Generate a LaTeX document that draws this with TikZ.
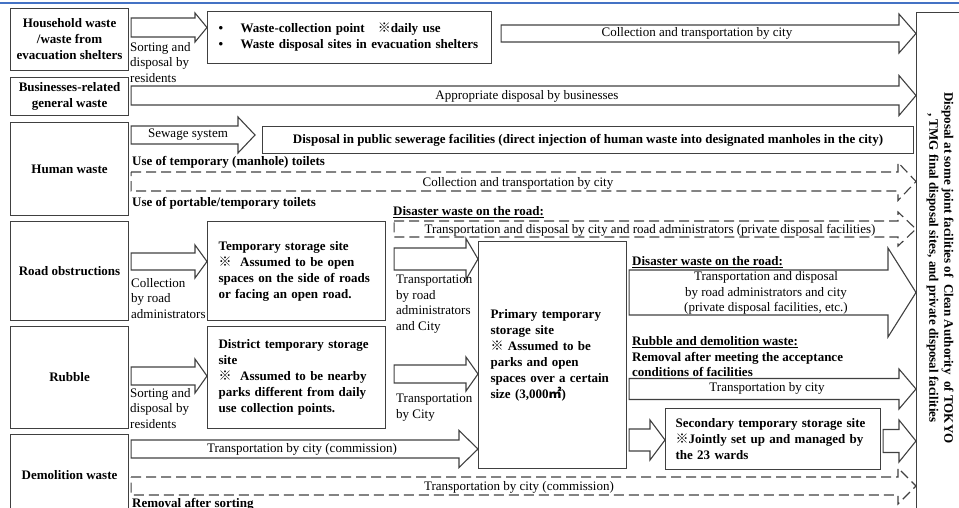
\documentclass[tikz,border=0pt]{standalone}
\usepackage{fontspec}
\setmainfont{Liberation Serif}
\newfontfamily\cjk{Noto Sans CJK JP}
\usetikzlibrary{calc}
\definecolor{topblue}{RGB}{68,114,196}
\newcommand{\kome}{{\cjk ※}}
\newcommand{\sqm}{{\cjk ㎡}}
% hollow block arrow: [style]{tail}{tip}{shaft half}{head half}{head length}
\newcommand{\fatarrow}[6][]{%
  \draw[fat,#1] ($#2+(2,-#4)$) -- ($#3+(-#6,-#4)$) -- ($#3+(-#6,-#5)$) -- #3
    -- ($#3+(-#6,#5)$) -- ($#3+(-#6,#4)$) -- ($#2+(2,#4)$) -- cycle;}
\begin{document}
\begin{tikzpicture}[x=1pt,y=-1pt,
  box/.style={draw=black!75, line width=1.1pt, anchor=north west, minimum width=118pt, font=\bfseries, align=center, inner sep=2pt},
  site/.style={draw=black!75, line width=1.1pt, anchor=north west, font=\bfseries, align=left, inner xsep=11pt},
  lbl/.style={font=\fontsize{13}{15.5}\selectfont, align=left, inner sep=0pt, anchor=north west},
  txt/.style={inner sep=0pt},
  hd/.style={font=\bfseries, anchor=west, inner sep=0pt},
  fat/.style={draw=black!75, line width=1.1pt},
  dsh/.style={dash pattern=on 10pt off 5pt}]
\fontsize{13}{16}\selectfont
\useasboundingbox (0,0) rectangle (959,507);
\clip (0,0) rectangle (959,507);

%Top Rule
\draw[line width=2.5pt, topblue] (0,3) -- (959,3);

%Kinds of Waste
\node[box, minimum height=62pt] (hh) at (10,8) {Household waste\\/waste from\\evacuation shelters};
\node[box, minimum height=38pt] (biz) at (10,77) {Businesses-related\\general waste};
\node[box, minimum height=93pt] (hum) at (10,122) {Human waste};
\node[box, minimum height=99pt] (road) at (10,221) {Road obstructions};
\node[box, minimum height=102pt] (rub) at (10,326) {Rubble};
\node[box, minimum height=80pt] (demo) at (10,434) {Demolition waste};

%Sites
\node[site, text width=262pt, minimum height=52pt] (wcp) at (207,11) {\makebox[22pt][l]{•}Waste-collection point\quad\kome daily use\\\makebox[22pt][l]{•}Waste disposal sites in evacuation shelters};
\node[site, align=center, minimum width=651pt, minimum height=27pt, inner xsep=4pt] (sew) at (262,126) {Disposal in public sewerage facilities (direct injection of human waste into designated manholes in the city)};
\node[site, text width=156pt, minimum height=99pt] (tss) at (207,221) {Temporary storage site\\\kome\ \ Assumed to be open\\spaces on the side of roads\\or facing an open road.};
\node[site, text width=156pt, minimum height=102pt] (dts) at (207,326) {District temporary storage\\site\\\kome\ \ Assumed to be nearby\\parks different from daily\\use collection points.};
\node[site, text width=124pt, inner xsep=12pt, minimum height=227pt] (pri) at (478,241) {Primary temporary\\storage site\\\kome\ Assumed to be\\parks and open\\spaces over a certain\\size (3,000\sqm)};
\node[site, text width=195pt, inner xsep=10pt, minimum height=61pt] (sec) at (665,408) {Secondary temporary storage site\\\kome Jointly set up and managed by\\the 23 wards};

%Final Disposal
\node[draw=black!75, line width=1.1pt, anchor=north west, minimum width=60pt, minimum height=510pt] (fin) at (916,12) {};
\node[font=\bfseries\fontsize{13}{15}\selectfont, rotate=-90, align=center, inner sep=0pt] (fintxt) at (940,268) {Disposal at some joint facilities of\ \ Clean Authority\ \ of TOKYO\\, TMG final disposal sites, and private disposal facilities};

%Solid Arrows
\coordinate (colS) at ($(wcp.east |- 0,33.5)+(7,0)$);
\coordinate (sewT) at ($(sew.west |- 0,135)+(-7,0)$);
\coordinate (trS) at ($(tss.east |- 0,259)+(6,0)$);
\coordinate (tcS) at ($(dts.east |- 0,374)+(6,0)$);
\fatarrow{(hh.east |- 0,27.5)}{(wcp.west |- 0,27.5)}{9.5}{14.5}{12}
\fatarrow{(colS)}{(fin.west |- 0,33.5)}{8.5}{19.5}{17}
\fatarrow{(biz.east |- 0,95.5)}{(fin.west |- 0,95.5)}{9.5}{20}{17}
\fatarrow{(hum.east |- 0,135)}{(sewT)}{9}{18}{17}
\fatarrow{(road.east |- 0,261.5)}{(tss.west |- 0,261.5)}{8.5}{16.5}{12}
\fatarrow{(trS)}{(pri.west |- 0,259)}{11}{20.5}{12}
\fatarrow{(pri.east |- 0,292.5)}{(fin.west |- 0,292.5)}{22.5}{44.5}{28}
\fatarrow{(pri.east |- 0,389)}{(fin.west |- 0,389)}{10.5}{20}{17}
\fatarrow{(rub.east |- 0,376)}{(dts.west |- 0,376)}{9}{17}{12}
\fatarrow{(tcS)}{(pri.west |- 0,374)}{9}{17}{12}
\fatarrow{(demo.east |- 0,449)}{(pri.west |- 0,449)}{9}{18.5}{19}
\fatarrow{(pri.east |- 0,440)}{(sec.west |- 0,440)}{11}{20}{15}
\fatarrow{(sec.east |- 0,441)}{(fin.west |- 0,441)}{11.5}{21}{17}

%Dashed Arrows
\coordinate (rdS) at ($(tss.east |- 0,229)+(6,0)$);
\fatarrow[dsh]{(hum.east |- 0,181.5)}{(fin.west |- 0,181.5)}{9.5}{19}{18}
\fatarrow[dsh]{(rdS)}{(fin.west |- 0,229)}{8}{17}{18}
\fatarrow[dsh]{(demo.east |- 0,486)}{(fin.west |- 0,486)}{9}{18}{18}

%Arrow Texts
\node[txt] (t1) at (697,33) {Collection and transportation by city};
\node[txt] (t2) at (527,96) {Appropriate disposal by businesses};
\node[txt] (t3) at (188,135) {Sewage system};
\node[txt] (t4) at (518,183) {Collection and transportation by city};
\node[txt] (t5) at (650,230) {Transportation and disposal by city and road administrators (private disposal facilities)};
\node[txt, align=center, font=\fontsize{13}{15.5}\selectfont] (t6) at (766,293) {Transportation and disposal\\by road administrators and city\\(private disposal facilities, etc.)};
\node[txt] (t7) at (767,388) {Transportation by city};
\node[txt] (t8) at (302,449) {Transportation by city (commission)};
\node[txt] (t9) at (519,487) {Transportation by city (commission)};

%Labels under Arrows
\node[lbl] (l1) at (130,42) {Sorting and\\disposal by\\residents};
\node[lbl] (l2) at (131,278) {Collection\\by road\\administrators};
\node[lbl] (l3) at (396,275) {Transportation\\by road\\administrators\\and City};
\node[lbl] (l4) at (396,394) {Transportation\\by City};
\node[lbl] (l5) at (130,388) {Sorting and\\disposal by\\residents};

%Headings
\node[hd] (h1) at (132,162) {Use of temporary (manhole) toilets};
\node[hd] (h2) at (132,203) {Use of portable/temporary toilets};
\node[hd] (h3) at (393,212) {\underline{Disaster waste on the road:}};
\node[hd] (h4) at (632,262) {\underline{Disaster waste on the road:}};
\node[hd] (h5) at (632,342) {\underline{Rubble and demolition waste:}};
\node[hd, anchor=north west, align=left, font=\bfseries\fontsize{13}{15}\selectfont] (h6) at (632,352) {Removal after meeting the acceptance\\conditions of facilities};
\node[hd] (h7) at (132,505) {\underline{Removal after sorting}};
\end{tikzpicture}
\end{document}
